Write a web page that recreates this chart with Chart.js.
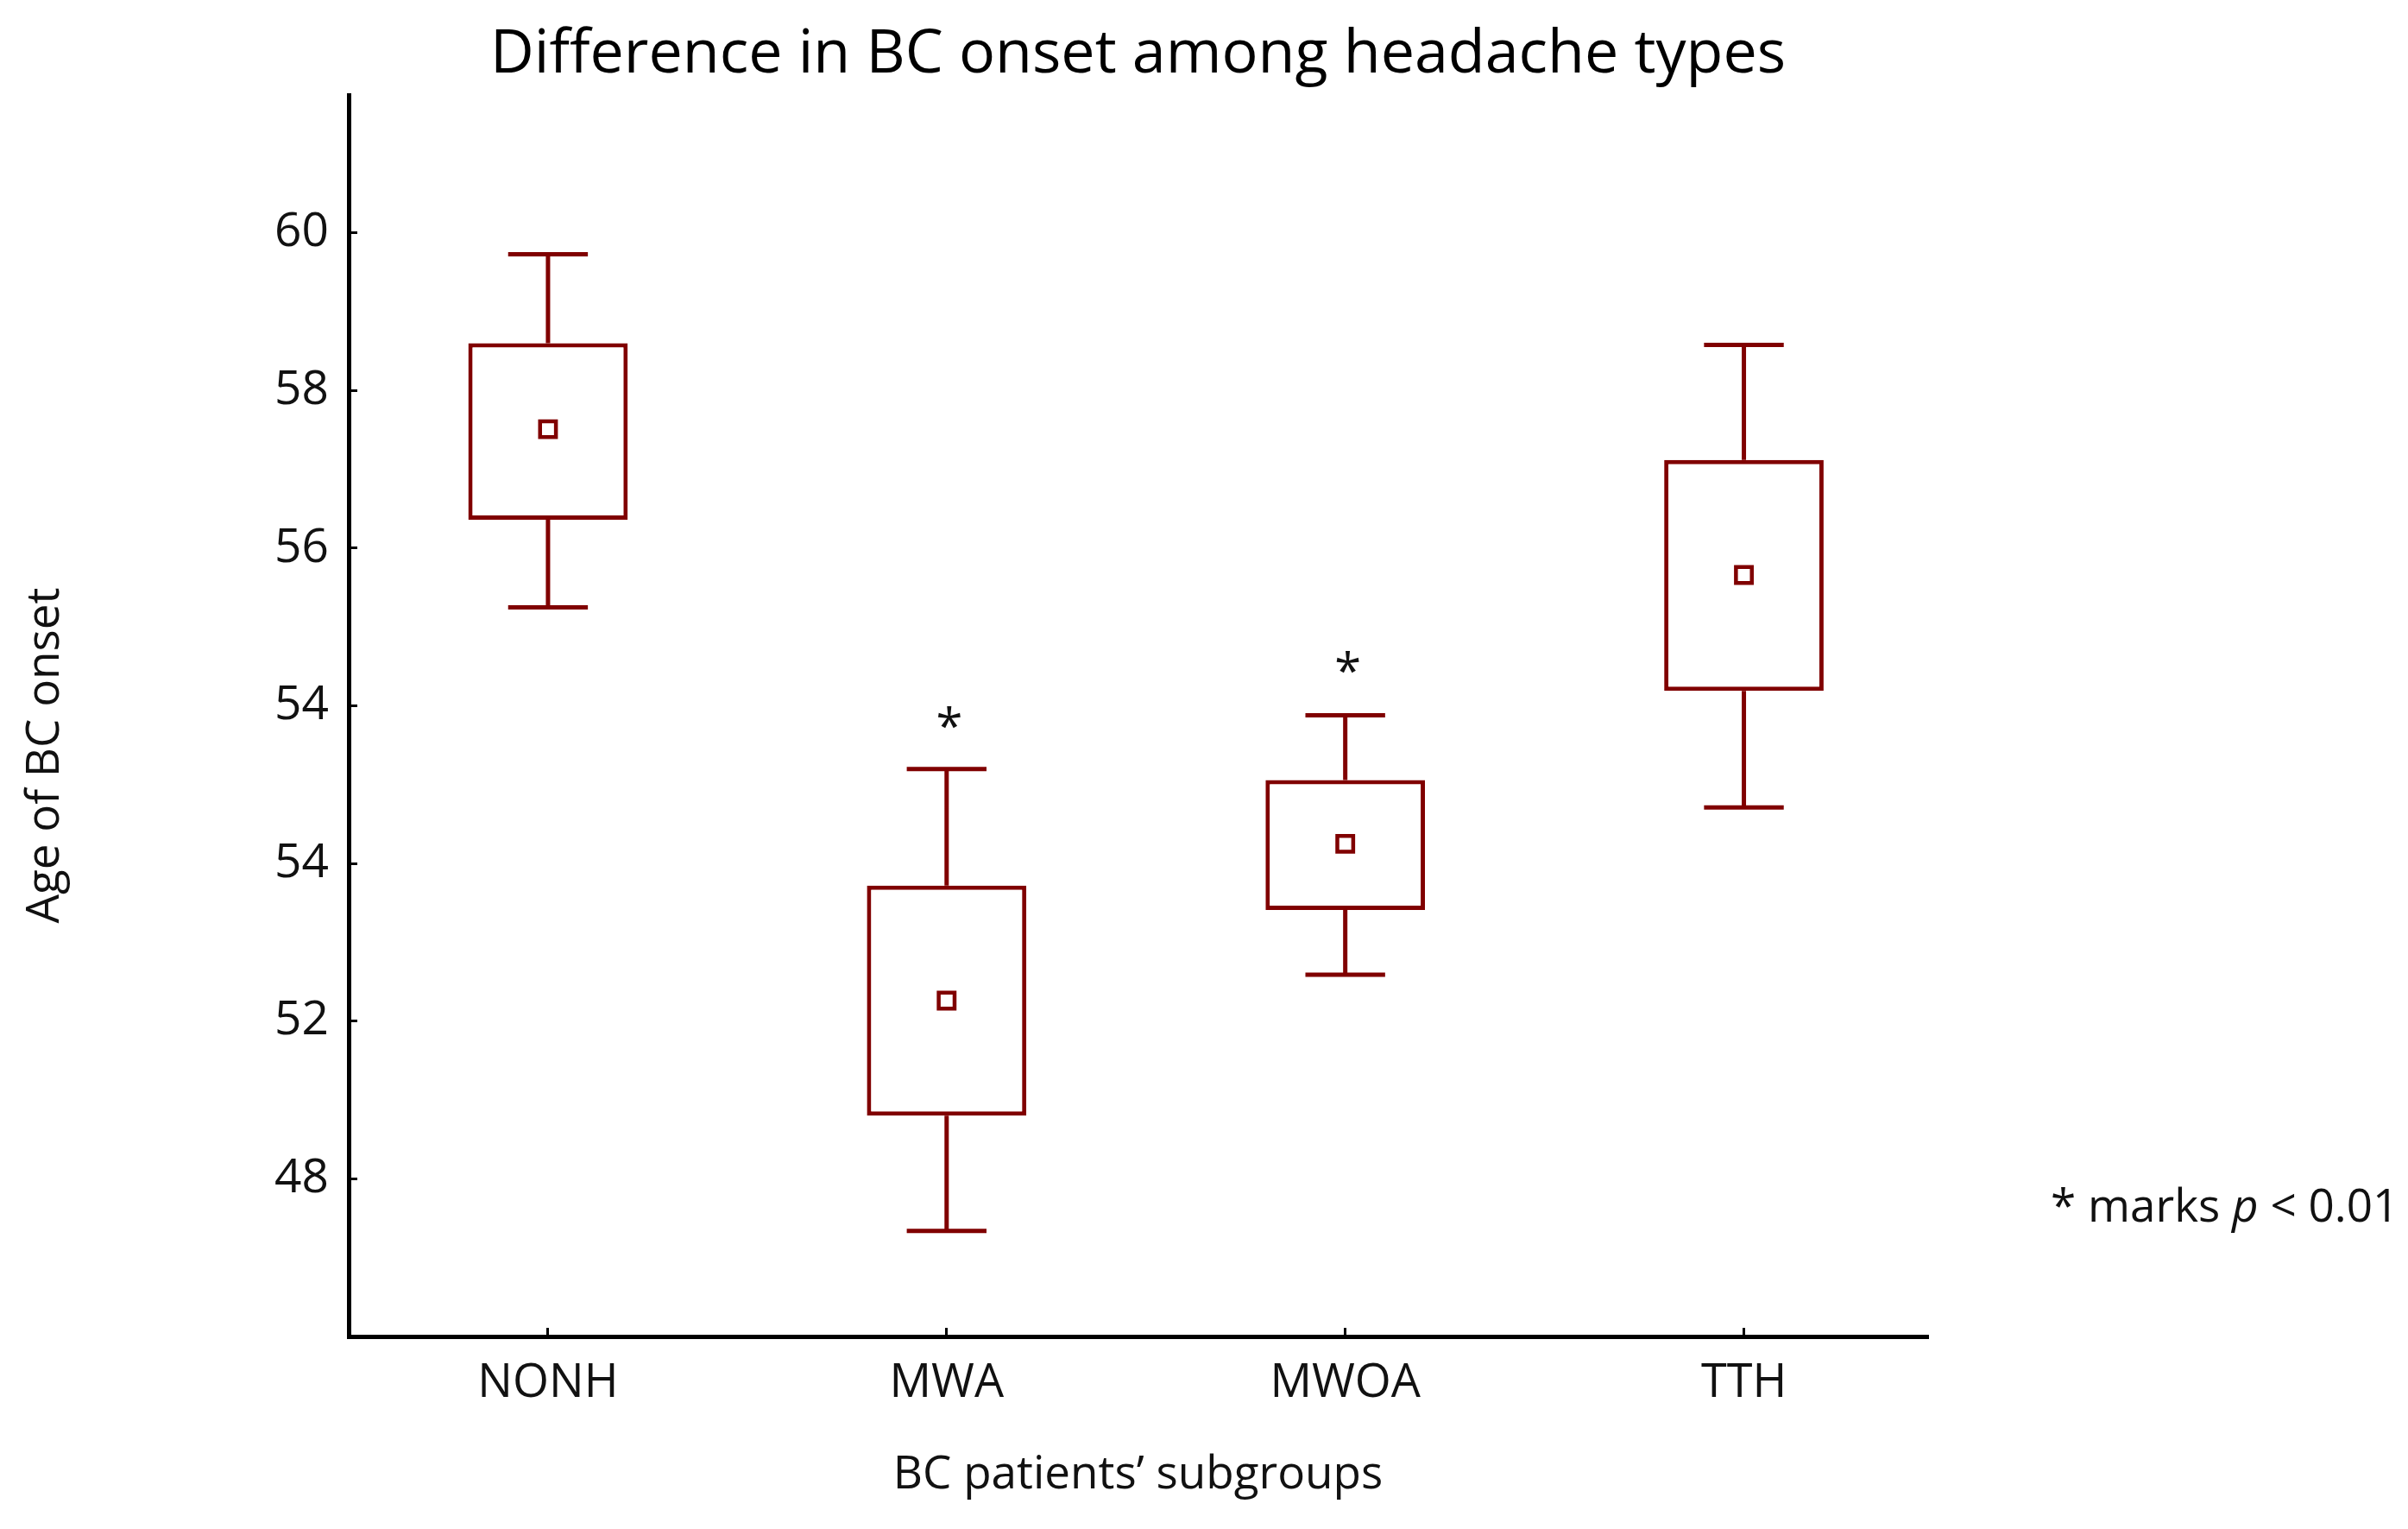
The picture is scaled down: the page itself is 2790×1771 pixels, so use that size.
<!DOCTYPE html>
<html>
<head>
<meta charset="utf-8">
<title>Difference in BC onset among headache types</title>
<script src="https://cdn.jsdelivr.net/npm/chart.js@4.4.1/dist/chart.umd.min.js"></script>
<style>
  html, body { margin: 0; padding: 0; background: #fff; }
  #wrap { width: 2790px; height: 1771px; }
</style>
</head>
<body>
<div id="wrap"><canvas id="chartOnset"></canvas></div>
<script>
// ─── Data ─────────────────────────────────────────────────
const groups = ['NONH', 'MWA', 'MWOA', 'TTH'];

// box plot statistics, in axis units
const whiskerLow  = [55.25, 47.34, 50.59, 52.71];
const boxLow      = [56.36, 48.80, 51.41, 54.19];
const meanValue   = [57.51, 50.26, 52.25, 55.66];
const boxHigh     = [58.60, 51.72, 53.06, 57.12];
const whiskerHigh = [59.73, 53.20, 53.88, 58.58];

// significance marks (*) above the whiskers
const starGroups = ['MWA', 'MWOA'];
const starLevel  = [53.86, 54.56];

// y axis ticks: evenly spaced positions, labels exactly as printed
const yTickValues = [60, 58, 56, 54, 52, 50, 48];
const yTickLabels = ['60', '58', '56', '54', '54', '52', '48'];

// ─── Style ────────────────────────────────────────────────
const DARK_RED = '#800000';
const FONT = "'Open Sans', 'Noto Sans', sans-serif";
const CAP_HALF = 0.1; // half width of the whisker caps (x units)

Chart.defaults.font.family = FONT;
Chart.defaults.color = '#111';

// whiskers as one broken line: stem + cap, top and bottom
function whiskerPoints() {
  const pts = [];
  groups.forEach((g, i) => {
    pts.push({ x: i, y: boxHigh[i] }, { x: i, y: whiskerHigh[i] }, { x: i, y: null });
    pts.push({ x: i - CAP_HALF, y: whiskerHigh[i] }, { x: i + CAP_HALF, y: whiskerHigh[i] }, { x: i, y: null });
    pts.push({ x: i, y: boxLow[i] }, { x: i, y: whiskerLow[i] }, { x: i, y: null });
    pts.push({ x: i - CAP_HALF, y: whiskerLow[i] }, { x: i + CAP_HALF, y: whiskerLow[i] }, { x: i, y: null });
  });
  return pts;
}

// y axis title, asterisks and the note on the right
const annotations = {
  id: 'annotations',
  afterDraw(chart) {
    const { ctx, chartArea, scales: { x, y } } = chart;
    ctx.save();
    ctx.fillStyle = '#111';

    // y axis title (sits a little below the middle in the original)
    ctx.save();
    ctx.translate(53, (chartArea.top + chartArea.bottom) / 2 + 46);
    ctx.rotate(-Math.PI / 2);
    ctx.font = '53px ' + FONT;
    ctx.textAlign = 'center';
    ctx.textBaseline = 'middle';
    ctx.fillText('Age of BC onset', 0, 0);
    ctx.restore();

    // asterisks
    ctx.font = '56px ' + FONT;
    ctx.textAlign = 'center';
    ctx.textBaseline = 'alphabetic';
    starGroups.forEach((g, k) => {
      const px = x.getPixelForValue(groups.indexOf(g));
      const py = y.getPixelForValue(starLevel[k]);
      ctx.fillText('*', px + 3, py + 31);
    });

    // note: "* marks p < 0.01"
    let nx = chartArea.right + 143;
    const ny = y.getPixelForValue(47.67) + 19;
    ctx.textAlign = 'left';
    const parts = [['* marks ', 'normal'], ['p', 'italic'], [' < 0.01', 'normal']];
    parts.forEach(([txt, style]) => {
      ctx.font = style + ' 53px ' + FONT;
      ctx.fillText(txt, nx, ny);
      nx += ctx.measureText(txt).width;
    });
    ctx.restore();
  }
};

new Chart(document.getElementById('chartOnset'), {
  type: 'bar',
  data: {
    datasets: [
      {
        type: 'scatter',
        label: 'Mean',
        data: groups.map((g, i) => ({ x: i, y: meanValue[i] })),
        pointStyle: 'rect',
        pointRadius: 13,
        pointHoverRadius: 13,
        borderWidth: 4.5,
        pointBorderWidth: 4.5,
        borderColor: DARK_RED,
        backgroundColor: '#fff',
        order: 1,
      },
      {
        type: 'bar',
        label: 'Box',
        data: groups.map((g, i) => ({ x: i, y: [boxLow[i], boxHigh[i]] })),
        backgroundColor: '#fff',
        borderColor: DARK_RED,
        borderWidth: 5,
        borderSkipped: false,
        categoryPercentage: 1,
        barPercentage: 0.4,
        order: 2,
      },
      {
        type: 'line',
        label: 'Whiskers',
        data: whiskerPoints(),
        borderColor: DARK_RED,
        borderWidth: 5,
        borderCapStyle: 'butt',
        pointRadius: 0,
        pointHoverRadius: 0,
        fill: false,
        tension: 0,
        spanGaps: false,
        order: 3,
      },
    ],
  },
  options: {
    responsive: true,
    maintainAspectRatio: false,
    devicePixelRatio: 1,
    animation: false,
    events: [],
    layout: { padding: { left: 0, top: 0, right: 557, bottom: 0 } },
    plugins: {
      legend: { display: false },
      tooltip: { enabled: false },
      title: {
        display: true,
        text: 'Difference in BC onset among headache types',
        fullSize: false, // centred over the plot area, not the canvas
        color: '#000',
        font: { family: FONT, size: 70, weight: 'normal' },
        padding: { top: 22, bottom: 4 },
      },
    },
    scales: {
      x: {
        type: 'linear',
        min: -0.5,
        max: 3.46,
        offset: false,
        afterBuildTicks: s => { s.ticks = groups.map((g, i) => ({ value: i })); },
        afterFit: s => { s.height = 223; },
        border: { color: '#000', width: 5 },
        grid: { drawOnChartArea: false, offset: false, tickLength: -10, color: '#000', lineWidth: 3 },
        ticks: {
          callback: v => groups[v],
          autoSkip: false,
          maxRotation: 0,
          padding: 32,
          color: '#111',
          font: { family: FONT, size: 54 },
        },
        title: {
          display: true,
          text: 'BC patients’ subgroups',
          color: '#111',
          font: { family: FONT, size: 53 },
          padding: { top: 0, bottom: 30 },
        },
      },
      y: {
        type: 'linear',
        min: 46,
        max: 61.75,
        beginAtZero: false,
        afterBuildTicks: s => { s.ticks = yTickValues.map(v => ({ value: v })); },
        afterFit: s => { s.width = 404; },
        border: { color: '#000', width: 5 },
        grid: { drawOnChartArea: false, tickLength: -10, color: '#000', lineWidth: 3 },
        ticks: {
          callback: v => yTickLabels[yTickValues.indexOf(v)],
          padding: 33,
          color: '#111',
          font: { family: FONT, size: 55 },
        },
      },
    },
  },
  plugins: [annotations],
});
</script>
</body>
</html>
